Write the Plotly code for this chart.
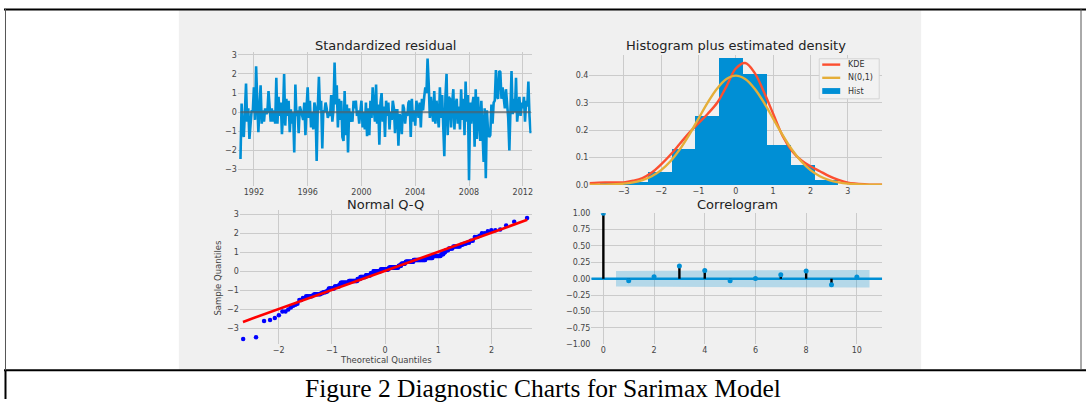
import plotly.graph_objects as go
import pandas as pd
from statistics import NormalDist

# ---------------- data ----------------
resid_start = "1991-01-01"
resid = [
    -2.45, 0.45, -0.90, -1.30, 0.00, 1.50, -0.50, 0.20, -1.40, -0.30, 0.10, 0.00,   # 1991
    1.30, -0.40, 2.40, 0.60, -1.05, 0.20, 1.40, -0.60, 0.10, -0.50, 0.20, -0.10,    # 1992
    0.00, 1.10, 0.10, -0.50, 0.20, -0.50, 0.10, -0.60, 1.80, -0.60, 0.80, -0.20,    # 1993
    0.50, -1.15, -0.10, 2.00, -0.70, 0.70, -0.20, 0.60, -1.05, 0.15, -0.60, 0.00,   # 1994
    -2.10, 1.45, -0.20, 0.10, -1.10, 0.30, 0.10, -0.10, -0.40, 0.50, -1.20, 0.20,   # 1995
    1.30, -0.30, 0.60, -0.80, 0.00, -0.90, 0.50, 0.20, -2.55, 0.15, 1.85, 0.10,     # 1996
    0.60, -1.90, 0.10, 0.00, 0.50, 0.20, -0.30, 0.00, -0.20, 0.90, -0.50, 0.10,     # 1997
    2.60, 0.40, 1.40, -0.80, 0.70, -0.40, 0.60, -1.30, -1.50, 1.10, -1.20, 0.40,    # 1998
    -2.10, 0.20, -0.50, 0.00, -0.50, 0.60, 0.20, 0.60, -0.20, 0.10, -0.60, 0.00,    # 1999
    0.60, -0.80, 0.00, -0.90, 0.50, -1.25, 0.20, -1.20, 0.60, -0.30, 1.30, 0.20,    # 2000
    -0.50, 1.45, -0.60, 0.40, -1.70, 0.50, 1.00, -0.50, 0.30, -1.30, 0.60, -0.20,   # 2001
    0.50, -0.90, 0.00, -0.40, 0.60, 0.20, -1.10, 0.10, 0.10, -1.75, -0.10, -0.30,   # 2002
    -1.15, 0.40, 0.20, -0.60, 0.00, -0.20, 0.50, 0.60, -1.30, 0.70, -0.50, 0.10,    # 2003
    -0.70, 0.60, 0.20, -0.30, 0.50, -0.80, 0.70, 0.10, 0.80, 1.30, 1.00, 2.80,      # 2004
    1.50, -0.30, 0.80, 0.20, -0.50, 1.10, -0.60, 0.60, 0.00, -0.80, 1.30, -0.30,    # 2005
    0.90, -0.60, -2.30, 0.80, 2.00, -1.20, 0.80, 0.70, -0.80, 0.50, 1.20, -0.90,    # 2006
    0.40, 0.70, -0.60, 0.30, -0.90, 1.20, -0.40, 0.70, -1.20, 1.60, -0.50, 0.90,    # 2007
    -3.55, 0.50, -0.60, 0.40, 0.80, -1.80, 1.20, -1.40, 0.80, -0.30, -1.50, 0.60,   # 2008
    -0.90, -2.60, 0.20, -3.45, 0.10, -1.00, -1.30, -1.20, 0.40, -0.60, 0.50, 0.60,  # 2009
    2.20, 0.80, 0.70, 2.15, 2.10, 0.70, 1.30, 0.50, 0.20, 1.20, 0.60, -0.30,        # 2010
    -2.00, 0.60, 2.15, -0.10, 0.70, 0.00, 1.80, -0.50, 0.30, 0.80, -0.20, 0.50,     # 2011
    0.20, 0.80, -0.50, 0.60, 0.30, 1.60, -0.20, -1.10,                              # 2012
]

hist_left_edges = [-3.62, -2.98, -2.34, -1.71, -1.07, -0.43, 0.21, 0.84, 1.48, 2.12]
hist_bin_width = 0.64
hist_density = [0.006, 0.012, 0.046, 0.133, 0.253, 0.464, 0.407, 0.147, 0.072, 0.020]

density_x = [-3.92, -3.5, -3.0, -2.75, -2.5, -2.25, -2.0, -1.75, -1.5, -1.25, -1.0,
             -0.75, -0.5, -0.25, 0.0, 0.25, 0.5, 0.75, 1.0, 1.25, 1.5, 1.75, 2.0,
             2.25, 2.5, 2.75, 3.0, 3.5, 3.92]
kde_y = [0.006, 0.009, 0.009, 0.015, 0.025, 0.045, 0.075, 0.110, 0.150, 0.190, 0.225,
         0.260, 0.300, 0.360, 0.425, 0.445, 0.410, 0.340, 0.260, 0.180, 0.125, 0.090,
         0.068, 0.050, 0.032, 0.018, 0.008, 0.002, 0.0005]
norm_y = [0.0002, 0.0009, 0.0044, 0.0091, 0.0175, 0.0317, 0.0540, 0.0863, 0.1295,
          0.1826, 0.2420, 0.3011, 0.3521, 0.3867, 0.3989, 0.3867, 0.3521, 0.3011,
          0.2420, 0.1826, 0.1295, 0.0863, 0.0540, 0.0317, 0.0175, 0.0091, 0.0044,
          0.0009, 0.0002]

qq_line_x = [-2.67, 2.67]
qq_line_y = [-2.65, 2.70]

acf_lags = [0, 1, 2, 3, 4, 5, 6, 7, 8, 9, 10]
acf_vals = [1.00, -0.03, 0.03, 0.195, 0.125, -0.03, 0.005, 0.06, 0.12, -0.09, 0.025]
conf_half = [0.120, 0.121, 0.122, 0.126, 0.128, 0.129, 0.130, 0.131, 0.134, 0.135]

legend_labels = ["KDE", "N(0,1)", "Hist"]
titles = ["Standardized residual", "Histogram plus estimated density",
          "Normal Q-Q", "Correlogram"]
caption = "Figure 2 Diagnostic Charts for Sarimax Model"

# ---------------- styles ----------------
W, H = 1087, 404
BG = "#f0f0f0"
GRID = "#cbcbcb"
BLUE = "#008fd5"
RED = "#fc4f30"
YEL = "#e5ae38"
FONT = "DejaVu Sans"
TICKF = dict(family=FONT, size=8, color="#444444")


def px(x):
    return x / W


def py(y):
    return 1 - y / H


dates = pd.date_range(resid_start, periods=len(resid), freq="MS")

fig = go.Figure()

# top-left: standardized residual
fig.add_trace(go.Scatter(x=dates, y=resid, mode="lines",
                         line=dict(color=BLUE, width=2.6),
                         xaxis="x", yaxis="y", showlegend=False))
fig.add_trace(go.Scatter(x=[dates[0], dates[-1]], y=[0, 0], mode="lines",
                         line=dict(color="rgba(90,90,90,0.6)", width=2.2),
                         xaxis="x", yaxis="y", showlegend=False))

# top-right: histogram + densities
hist_centers = [e + hist_bin_width / 2 for e in hist_left_edges]
fig.add_trace(go.Bar(x=hist_centers, y=hist_density, width=hist_bin_width,
                     marker=dict(color=BLUE, line=dict(width=0)),
                     name=legend_labels[2], showlegend=False,
                     xaxis="x2", yaxis="y2"))
fig.add_trace(go.Scatter(x=density_x, y=kde_y, mode="lines",
                         line=dict(color=RED, width=2.4, shape="spline"),
                         name=legend_labels[0], showlegend=False,
                         xaxis="x2", yaxis="y2"))
fig.add_trace(go.Scatter(x=density_x, y=norm_y, mode="lines",
                         line=dict(color=YEL, width=2.4, shape="spline"),
                         name=legend_labels[1], showlegend=False,
                         xaxis="x2", yaxis="y2"))

# bottom-left: Q-Q
sample_q = sorted(resid)
n = len(sample_q)
theo_q = [NormalDist().inv_cdf((i + 1) / (n + 1)) for i in range(n)]
fig.add_trace(go.Scatter(x=theo_q, y=sample_q, mode="markers",
                         marker=dict(color="#0000ff", size=4.5),
                         xaxis="x3", yaxis="y3", showlegend=False))
fig.add_trace(go.Scatter(x=qq_line_x, y=qq_line_y, mode="lines",
                         line=dict(color="#ff0000", width=2.6),
                         xaxis="x3", yaxis="y3", showlegend=False))

# bottom-right: correlogram
band_x = [float(l) for l in acf_lags[1:]]
band_x[0] -= 0.5
band_x[-1] += 0.5
fig.add_trace(go.Scatter(x=band_x + band_x[::-1],
                         y=conf_half + [-c for c in conf_half[::-1]],
                         fill="toself", fillcolor="rgba(0,143,213,0.25)",
                         line=dict(width=0), mode="lines",
                         xaxis="x4", yaxis="y4", showlegend=False, hoverinfo="skip"))
fig.add_trace(go.Scatter(x=[-0.5, 11.0], y=[0, 0], mode="lines",
                         line=dict(color=BLUE, width=2.6),
                         xaxis="x4", yaxis="y4", showlegend=False))
stem_x, stem_y = [], []
for l, v in zip(acf_lags, acf_vals):
    stem_x += [l, l, None]
    stem_y += [0, v, None]
fig.add_trace(go.Scatter(x=stem_x, y=stem_y, mode="lines",
                         line=dict(color="black", width=2.4),
                         xaxis="x4", yaxis="y4", showlegend=False))
fig.add_trace(go.Scatter(x=acf_lags, y=acf_vals, mode="markers",
                         marker=dict(color=BLUE, size=5),
                         xaxis="x4", yaxis="y4", showlegend=False))


def ax(**kw):
    base = dict(showgrid=True, gridcolor=GRID, gridwidth=1, zeroline=False,
                showline=False, ticks="", tickfont=TICKF)
    base.update(kw)
    return base


fig.update_layout(
    width=W, height=H,
    margin=dict(l=0, r=0, t=0, b=0),
    paper_bgcolor="white",
    plot_bgcolor=BG,
    font=dict(family=FONT),
    showlegend=False,
    xaxis=ax(domain=[px(238), px(532)], anchor="y", type="date",
             range=["1990-10-20", "2012-08-25"], tick0="1992-01-01",
             dtick="M48", tickformat="%Y"),
    yaxis=ax(domain=[py(186), py(49)], anchor="x", range=[-3.85, 3.15],
             dtick=1, tick0=0),
    xaxis2=ax(domain=[px(590), px(883)], anchor="y2", range=[-3.92, 3.92],
              dtick=1, tick0=0),
    yaxis2=ax(domain=[py(185), py(52)], anchor="x2", range=[0, 0.475],
              dtick=0.1, tick0=0, tickformat=".1f"),
    xaxis3=ax(domain=[px(240), px(532)], anchor="y3", range=[-2.73, 2.75],
              dtick=1, tick0=0),
    yaxis3=ax(domain=[py(348), py(211)], anchor="x3", range=[-3.82, 3.2],
              dtick=1, tick0=0),
    xaxis4=ax(domain=[px(592), px(883)], anchor="y4", range=[-0.47, 11.0],
              dtick=2, tick0=0),
    yaxis4=ax(domain=[py(348), py(214)], anchor="x4", range=[-1, 1],
              dtick=0.25, tick0=0, tickformat=".2f"),
    bargap=0,
)

# background of embedded chart image, table lines, legend box + samples
shapes = [
    dict(type="rect", xref="paper", yref="paper", x0=px(179), x1=px(922),
         y0=py(374), y1=py(6), fillcolor=BG, line=dict(width=0), layer="below"),
    dict(type="line", xref="paper", yref="paper", x0=px(4), x1=1,
         y0=py(5.5), y1=py(5.5), line=dict(color="black", width=2)),
    dict(type="line", xref="paper", yref="paper", x0=px(4), x1=1,
         y0=py(374.5), y1=py(374.5), line=dict(color="black", width=2)),
    dict(type="line", xref="paper", yref="paper", x0=px(5.5), x1=px(5.5),
         y0=py(375), y1=py(5), line=dict(color="#555555", width=1)),
    dict(type="line", xref="paper", yref="paper", x0=px(5.5), x1=px(5.5),
         y0=0, y1=py(375), line=dict(color="black", width=2)),
    dict(type="line", xref="paper", yref="paper", x0=px(1082), x1=px(1082),
         y0=py(374), y1=py(5), line=dict(color="#555555", width=1)),
    # legend
    dict(type="rect", xref="paper", yref="paper", x0=px(820), x1=px(880),
         y0=py(97), y1=py(56), fillcolor="#f2f2f2",
         line=dict(color="#d4d4d4", width=1)),
    dict(type="line", xref="paper", yref="paper", x0=px(823), x1=px(841),
         y0=py(62), y1=py(62), line=dict(color=RED, width=2.4)),
    dict(type="line", xref="paper", yref="paper", x0=px(823), x1=px(841),
         y0=py(75.5), y1=py(75.5), line=dict(color=YEL, width=2.4)),
    dict(type="rect", xref="paper", yref="paper", x0=px(823), x1=px(841),
         y0=py(92), y1=py(86), fillcolor=BLUE, line=dict(width=0)),
]
fig.update_layout(shapes=shapes)

title_pos = [(386, 42), (737, 42), (386, 205), (738, 205)]
ann = []
for t, (x, y) in zip(titles, title_pos):
    ann.append(dict(text=t, x=px(x), y=py(y), xref="paper", yref="paper",
                    showarrow=False, xanchor="center", yanchor="middle",
                    font=dict(family=FONT, size=13, color="#222222")))
for t, y in zip(legend_labels, [62, 75.5, 89]):
    ann.append(dict(text=t, x=px(847), y=py(y), xref="paper", yref="paper",
                    showarrow=False, xanchor="left", yanchor="middle",
                    font=dict(family=FONT, size=8, color="#333333")))
ann.append(dict(text="Sample Quantiles", x=px(218), y=py(280), xref="paper",
                yref="paper", showarrow=False, textangle=-90,
                xanchor="center", yanchor="middle",
                font=dict(family=FONT, size=8.5, color="#444444")))
ann.append(dict(text="Theoretical Quantiles", x=px(386), y=py(364), xref="paper",
                yref="paper", showarrow=False, xanchor="center", yanchor="middle",
                font=dict(family=FONT, size=8.5, color="#444444")))
ann.append(dict(text=caption, x=px(543), y=py(393), xref="paper", yref="paper",
                showarrow=False, xanchor="center", yanchor="middle",
                font=dict(family="Liberation Serif", size=25.5, color="black")))
fig.update_layout(annotations=ann)

fig.write_html("out.html", config={"displayModeBar": False},
               post_script="document.body.style.margin='0';")
